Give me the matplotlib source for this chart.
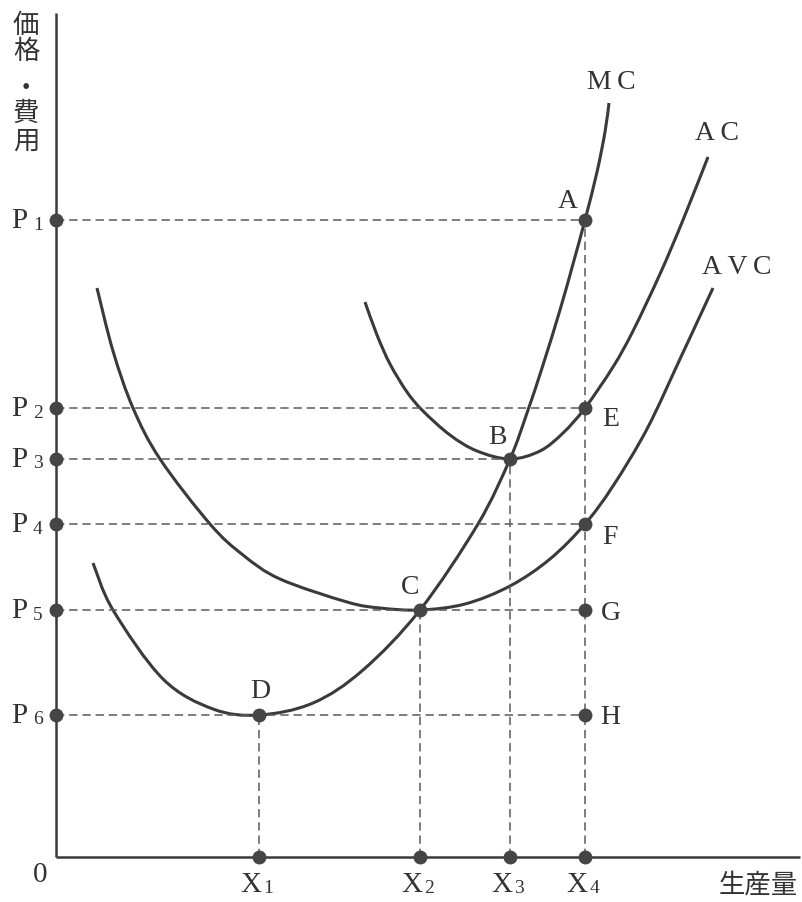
import matplotlib
matplotlib.use('Agg')
import matplotlib.pyplot as plt
from matplotlib.path import Path
from matplotlib.patches import PathPatch

# values (origin at the corner of the axes, 1 unit ~ 1 px)
p_levels = [637, 449, 398, 333, 247, 142]
p_names = ['1', '2', '3', '4', '5', '6']
x_levels = [203, 364, 454, 529]
x_names = ['1', '2', '3', '4']

mc_x = [37, 57, 107, 157, 203, 257, 307, 364, 422, 454, 471, 487, 504, 517, 529, 541, 549, 553]
mc_y = [294, 247, 178, 148, 142, 154, 187, 247, 333, 398, 444, 492, 547, 593, 637, 685, 725, 754]

ac_x = [309, 321, 334, 351, 367, 394, 421, 454, 484, 507, 529, 557, 577, 604, 627, 652]
ac_y = [555, 522, 493, 465, 446, 422, 406, 398, 406, 424, 449, 490, 526, 583, 637, 700]

avc_x = [41, 57, 77, 104, 154, 187, 224, 291, 324, 364, 409, 454, 494, 529, 557, 591, 624, 644, 657]
avc_y = [569, 506, 449, 398, 333, 302, 278, 255, 249, 247, 253, 271, 298, 333, 371, 428, 498, 541, 569]

pt_names = ['A', 'B', 'C', 'D', 'E', 'F', 'G', 'H']
pt_x = [529, 454, 364, 203, 529, 529, 529, 529]
pt_y = [637, 398, 247, 142, 449, 333, 247, 142]
pt_lab_x = [512, 441, 354, 204, 555, 554, 555, 554]
pt_lab_y = [657, 421, 271, 166, 438, 321, 245, 140]

# which point each price level / quantity runs to
p_to = [529, 529, 454, 529, 529, 529]
x_to = [142, 247, 398, 637]

curve_names = ['M\u2009C', 'A\u2009C', 'A\u2009V\u2009C']
curve_lab_x = [555, 661, 681]
curve_lab_y = [776, 724, 590]

ink = '#3a3a3a'
dash_col = '#5a5a5a'
serif = ['Liberation Serif', 'DejaVu Serif']
jp = ['Noto Sans CJK JP', 'DejaVu Sans']

plt.rcParams['lines.scale_dashes'] = False


def smooth_path(xs, ys):
    # cubic bezier pieces through the read points (catmull-rom style handles)
    pts = list(zip(xs, ys))
    verts = [pts[0]]
    codes = [Path.MOVETO]
    n = len(pts)
    for i in range(n - 1):
        p0 = pts[i - 1] if i > 0 else pts[i]
        p1 = pts[i]
        p2 = pts[i + 1]
        p3 = pts[i + 2] if i + 2 < n else pts[i + 1]
        c1 = (p1[0] + (p2[0] - p0[0]) / 6.0, p1[1] + (p2[1] - p0[1]) / 6.0)
        c2 = (p2[0] - (p3[0] - p1[0]) / 6.0, p2[1] - (p3[1] - p1[1]) / 6.0)
        verts += [c1, c2, p2]
        codes += [Path.CURVE4, Path.CURVE4, Path.CURVE4]
    return Path(verts, codes)


figure = plt.figure(figsize=(8.02, 9.03), dpi=100)
axes = figure.add_axes([0, 0, 1, 1])
axes.set_xlim(-56, 746)
axes.set_ylim(-45, 858)
axes.axis('off')

# guide lines
for i in range(len(p_levels)):
    axes.plot([0, p_to[i]], [p_levels[i], p_levels[i]], color=dash_col, lw=1.1, dashes=(6, 3.5))
for i in range(len(x_levels)):
    axes.plot([x_levels[i], x_levels[i]], [0, x_to[i]], color=dash_col, lw=1.1, dashes=(6, 3.5))

# curves
for (cx, cy) in [(mc_x, mc_y), (ac_x, ac_y), (avc_x, avc_y)]:
    axes.add_patch(PathPatch(smooth_path(cx, cy), facecolor='none', edgecolor=ink,
                             lw=2.2, capstyle='butt', joinstyle='round'))

# axes
axes.plot([0, 0], [0, 844], color=ink, lw=1.8, solid_capstyle='butt')
axes.plot([0, 744], [0, 0], color=ink, lw=1.8, solid_capstyle='butt')

# dots
axes.plot([0] * len(p_levels), p_levels, 'o', color='#454545', ms=9, zorder=5)
axes.plot(x_levels, [0] * len(x_levels), 'o', color='#454545', ms=9, zorder=5)
axes.plot(pt_x, pt_y, 'o', color='#454545', ms=9, zorder=5)

# labels
for i in range(len(p_levels)):
    axes.text(-29, p_levels[i], 'P', family=serif, fontsize=21, color='#333333', ha='right', va='center')
    axes.text(-18, p_levels[i] - 4, p_names[i], family=serif, fontsize=14, color='#333333', ha='center', va='center')
for i in range(len(x_levels)):
    axes.text(x_levels[i] - 8, -27, 'X', family=serif, fontsize=21, color='#333333', ha='center', va='center')
    axes.text(x_levels[i] + 9, -31, x_names[i], family=serif, fontsize=14, color='#333333', ha='center', va='center')
axes.text(-16, -17, '0', family=serif, fontsize=21, color='#333333', ha='center', va='center')

for i in range(len(pt_names)):
    axes.text(pt_lab_x[i], pt_lab_y[i], pt_names[i], family=serif, fontsize=20, color='#333333', ha='center', va='center')
for i in range(len(curve_names)):
    axes.text(curve_lab_x[i], curve_lab_y[i], curve_names[i], family=serif, fontsize=20, color='#333333', ha='center', va='center')

y_chars = ['価', '格', '・', '費', '用']
y_char_pos = [833, 807, 770, 745, 717]
for i in range(len(y_chars)):
    axes.text(-30, y_char_pos[i], y_chars[i], family=jp, fontsize=19, color='#333333', ha='center', va='center')
axes.text(702, -27, '生産量', family=jp, fontsize=19, color='#333333', ha='center', va='center')

figure.savefig('out.png', dpi=100)
